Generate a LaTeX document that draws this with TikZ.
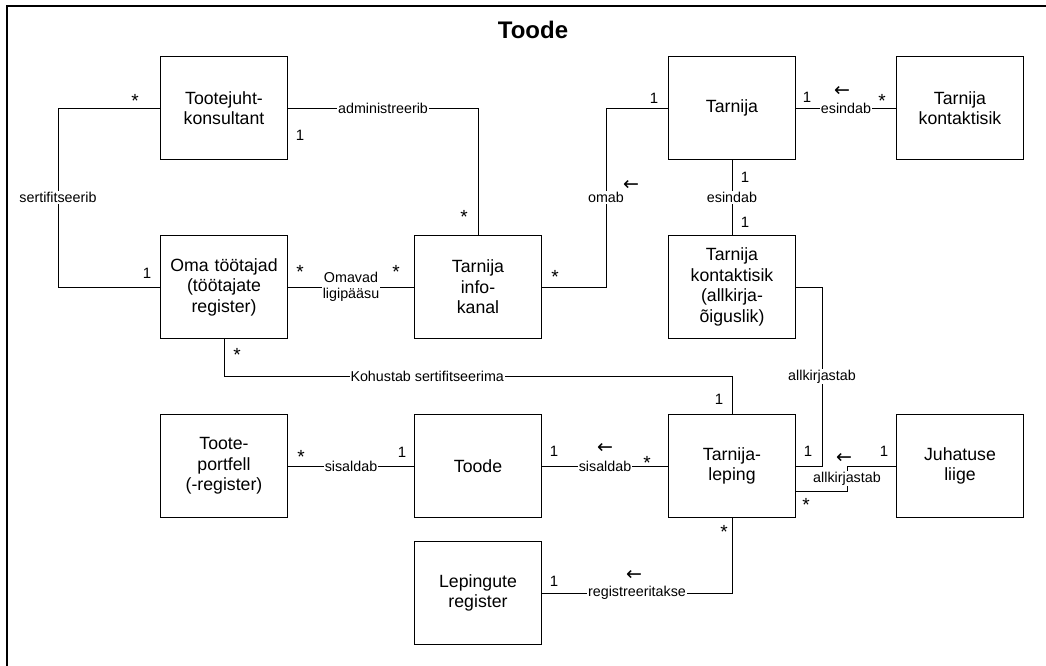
\documentclass[tikz,border=0pt]{standalone}
\usepackage{fontspec}
\setmainfont{Liberation Sans}
\newfontfamily\dirfont{DejaVu Sans}
\usepackage{tikz}

\begin{document}
\begin{tikzpicture}[x=1pt, y=-1pt, node distance=179pt]
    \tikzstyle{entity} = [rectangle, draw, line width=1pt, fill=white, text width=120pt, inner sep=3.5pt,
                          text centered, minimum height=103pt, font=\fontsize{17.7}{20.5}\selectfont]
    \tikzstyle{lab} = [fill=white, inner sep=1pt, align=center, font=\fontsize{14.3}{16.3}\selectfont]
    \tikzstyle{mult} = [inner sep=0pt, font=\fontsize{15}{15}\selectfont]
    \tikzstyle{many} = [inner sep=0pt, font=\fontsize{19}{19}\selectfont]
    \tikzstyle{dir} = [inner sep=0pt, font=\dirfont\fontsize{19}{19}\selectfont]
  \useasboundingbox (0,0) rectangle (1046,666);
  \draw[line width=2pt] (7,666) -- (7,6) -- (1046,6);
  \node[font=\bfseries\fontsize{24}{27}\selectfont] (title) at (533,30) {Toode};
  \node[entity] (konsultant) at (224,108) {Tootejuht-\\konsultant};
  \node[entity, below of=konsultant] (tootajad) {Oma töötajad\\(töötajate\\register)};
  \node[entity, below of=tootajad] (portfell) {Toote-\\portfell\\(-register)};
  \node[entity, right of=tootajad, xshift=75pt] (infokanal) {Tarnija\\info-\\kanal};
  \node[entity, right of=infokanal, xshift=75pt] (allkirjaisik) {Tarnija\\kontaktisik\\(allkirja-\\õiguslik)};
  \node[entity, above of=allkirjaisik] (tarnija) {Tarnija};
  \node[entity, right of=tarnija, xshift=49pt] (kontaktisik) {Tarnija\\kontaktisik};
  \node[entity, right of=portfell, xshift=75pt] (toode) {Toode};
  \node[entity, right of=toode, xshift=75pt] (leping) {Tarnija-\\leping};
  \node[entity, right of=leping, xshift=49pt] (juhatus) {Juhatuse\\liige};
  \node[entity, below of=toode, yshift=52pt] (register) {Lepingute\\register};
  \draw (konsultant.west) -- node[many, at start, xshift=-25pt, yshift=7pt] (m1) {*} ++(-102,0)
    |- node[lab, pos=0.25] (sert) {sertifitseerib} node[mult, at end, xshift=-13pt, yshift=14pt] (m2) {1} (tootajad.west);
  \draw (konsultant.east) -| node[lab, pos=0.25] (admin) {administreerib}
    node[mult, at start, xshift=12pt, yshift=-27pt] (m3) {1} node[many, at end, xshift=-14pt, yshift=18pt] (m4) {*} (infokanal.north);
  \draw (tootajad.east) -- node[lab] (ligi) {Omavad\\ligipääsu}
    node[many, at start, xshift=12pt, yshift=15pt] (m5) {*} node[many, at end, xshift=-18pt, yshift=15pt] (m6) {*} (infokanal.west);
  \draw (infokanal.east) -- node[many, at start, xshift=13pt, yshift=10pt] (m7) {*} ++(64,0)
    |- node[lab, pos=0.25] (omab) {omab} node[dir, pos=0.25, xshift=25pt, yshift=12pt] (d1) {←}
    node[mult, at end, xshift=-14pt, yshift=10pt] (m8) {1} (tarnija.west);
  \draw (tarnija.east) -- node[lab] (esindab1) {esindab} node[dir, xshift=-4pt, yshift=17pt] (d2) {←}
    node[mult, at start, xshift=11pt, yshift=11pt] (m9) {1} node[many, at end, xshift=-14pt, yshift=7pt] (m10) {*} (kontaktisik.west);
  \draw (tarnija.south) -- node[lab] (esindab2) {esindab}
    node[mult, at start, xshift=13pt, yshift=-17pt] (m11) {1} node[mult, at end, xshift=13pt, yshift=13pt] (m12) {1} (allkirjaisik.north);
  \draw (tootajad.south) -- node[many, at start, xshift=13pt, yshift=-16pt] (m13) {*} ++(0,37)
    -| node[lab, pos=0.2] (kohustab) {Kohustab sertifitseerima} node[mult, at end, xshift=-13pt, yshift=15pt] (m14) {1} (leping.north);
  \draw (allkirjaisik.east) -- ++(26,0) |- node[lab, pos=0.25] (allk1) {allkirjastab}
    node[mult, at end, xshift=12pt, yshift=15pt] (m15) {1} (leping.east);
  \draw (juhatus.west) -- node[mult, at start, xshift=-12pt, yshift=15pt] (m16) {1} ++(-49,0)
    |- node[lab, pos=0.25] (allk2) {allkirjastab} node[dir, pos=0, xshift=-3pt, yshift=8pt] (d3) {←}
    node[many, at end, xshift=10pt, yshift=-14pt] (m17) {*} ([yshift=-25pt]leping.east);
  \draw (portfell.east) -- node[lab] (sis1) {sisaldab}
    node[many, at start, xshift=13pt, yshift=9pt] (m18) {*} node[mult, at end, xshift=-12pt, yshift=14pt] (m19) {1} (toode.west);
  \draw (toode.east) -- node[lab] (sis2) {sisaldab} node[dir, yshift=18pt] (d4) {←}
    node[mult, at start, xshift=12pt, yshift=15pt] (m20) {1} node[many, at end, xshift=-21pt, yshift=3pt] (m21) {*} (leping.west);
  \draw (leping.south) |- node[lab, pos=0.75] (reg) {registreeritakse} node[dir, pos=0.75, xshift=-3pt, yshift=18pt] (d5) {←}
    node[many, at start, xshift=-8pt, yshift=-14pt] (m22) {*} node[mult, at end, xshift=12pt, yshift=12pt] (m23) {1} (register.east);
\end{tikzpicture}
\end{document}
